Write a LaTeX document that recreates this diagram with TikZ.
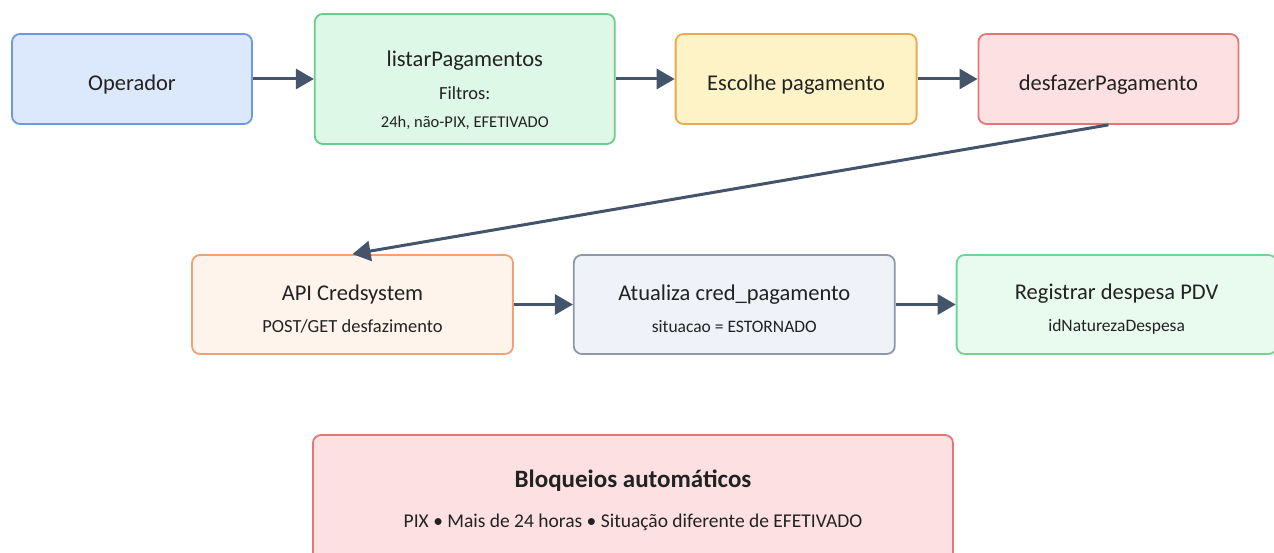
\documentclass[tikz,border=0pt]{standalone}
\usepackage{fontspec}
\setmainfont{Carlito}
\usetikzlibrary{positioning}
\usetikzlibrary{arrows.meta}

\definecolor{arrowgray}{HTML}{44546A}
\definecolor{blueFill}{HTML}{DCE8FC}
\definecolor{blueLine}{HTML}{6E98E6}
\definecolor{greenFill}{HTML}{DDF8E6}
\definecolor{greenLine}{HTML}{6CCB8C}
\definecolor{yellowFill}{HTML}{FEF3C7}
\definecolor{yellowLine}{HTML}{E8AA4C}
\definecolor{redFill}{HTML}{FDE0E1}
\definecolor{redLine}{HTML}{E57676}
\definecolor{orangeFill}{HTML}{FFF4EB}
\definecolor{orangeLine}{HTML}{F0A272}
\definecolor{grayFill}{HTML}{EFF2F8}
\definecolor{grayLine}{HTML}{8D98A9}
\definecolor{mintFill}{HTML}{E9FBEF}
\definecolor{mintLine}{HTML}{72D492}
\definecolor{textgray}{HTML}{222222}

% extra room above the first line of a box
\newcommand{\topgap}[1]{\rule{0pt}{#1}}

\tikzset{
	box/.style = {draw, rounded corners = 8pt, line width = 1.8pt, align = center,
		text = textgray, font = \fontsize{22.5}{26}\selectfont,
		minimum width = 240pt, minimum height = 90pt, inner sep = 0pt},
	flow/.style = {draw = arrowgray, line width = 3pt,
		-{Triangle[length = 18pt, width = 20pt]}}
}

\begin{document}
\begin{tikzpicture}[x = 1pt, y = 1pt]
		\useasboundingbox (0, 0) rectangle (1274, -553);
		
		% first row
		\node[box, fill = blueFill, draw = blueLine] (op) at (132, -79) {\topgap{26pt}Operador};
		\node[box, fill = greenFill, draw = greenLine, minimum width = 300pt, minimum height = 130pt,
			right = 61pt of op] (listar) {\topgap{38pt}listarPagamentos\\[7pt]
			{\fontsize{18.5}{20}\selectfont Filtros:}\\[2pt]
			{\fontsize{16.5}{18}\selectfont 24h, não-PIX, EFETIVADO}};
		\node[box, fill = yellowFill, draw = yellowLine, minimum width = 241pt, right = 59pt of listar] (escolhe) {\topgap{26pt}Escolhe pagamento};
		\node[box, fill = redFill, draw = redLine, minimum width = 260pt, right = 60pt of escolhe] (desfazer) {\topgap{26pt}desfazerPagamento};
		
		% second row
		\node[box, fill = orangeFill, draw = orangeLine, minimum width = 321pt, minimum height = 99pt] (api) at (352.5, -304.5)
			{\topgap{24pt}API Credsystem\\[6pt]{\fontsize{18.5}{20}\selectfont POST/GET desfazimento}};
		\node[box, fill = grayFill, draw = grayLine, minimum width = 321pt, minimum height = 99pt, right = 59pt of api] (atualiza)
			{\topgap{24pt}Atualiza cred\_pagamento\\[6pt]{\fontsize{17.5}{20}\selectfont situacao = ESTORNADO}};
		\node[box, fill = mintFill, draw = mintLine, minimum width = 320pt, minimum height = 99pt, right = 60pt of atualiza] (registrar)
			{\topgap{24pt}Registrar despesa PDV\\[6pt]{\fontsize{17.5}{20}\selectfont idNaturezaDespesa}};
		
		% blocks
		\node[box, fill = redFill, draw = redLine, minimum width = 640pt, minimum height = 130pt] (bloqueios) at (633, -500)
			{\textbf{\fontsize{25}{28}\selectfont Bloqueios automáticos}\\[14pt]
			{\fontsize{19.5}{22}\selectfont PIX • Mais de 24 horas • Situação diferente de EFETIVADO}};
		
		\path (op) edge[flow] (listar);
		\path (listar) edge[flow] (escolhe);
		\path (escolhe) edge[flow] (desfazer);
		\path (desfazer.south) edge[flow] (api.north);
		\path (api) edge[flow] (atualiza);
		\path (atualiza) edge[flow] (registrar);
	\end{tikzpicture}
\end{document}
